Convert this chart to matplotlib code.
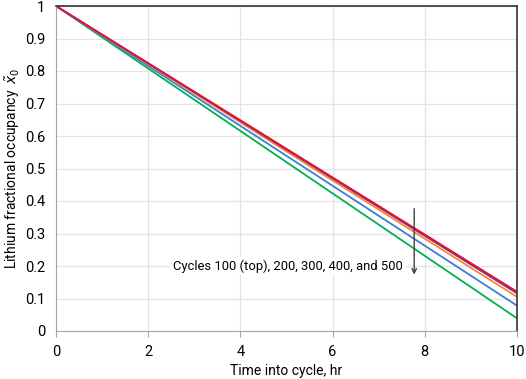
import matplotlib.pyplot as plt

# tiempo y ocupación fraccional de litio por ciclo
t = [0, 10]
cycles = [100, 200, 300, 400, 500]
x_c100 = [1.0, 0.121]
x_c200 = [1.0, 0.116]
x_c300 = [1.0, 0.105]
x_c400 = [1.0, 0.078]
x_c500 = [1.0, 0.039]

series = [x_c100, x_c200, x_c300, x_c400, x_c500]
colors = ['#E8112D', '#7030A0', '#F5892A', '#3B7DD8', '#00B050']

plt.rcParams['font.family'] = ['Roboto', 'DejaVu Sans']
plt.rcParams['mathtext.fontset'] = 'dejavusans'

fig = plt.figure(figsize=(5.26, 3.79), dpi=100)
ax = fig.add_axes([56 / 526, 48 / 379, 461 / 526, 325 / 379])

# dibujar del último ciclo al primero para que el 100 quede encima
for vals, c in reversed(list(zip(series, colors))):
    ax.plot(t, vals, color=c, lw=1.3)

ax.set_xlim(0, 10)
ax.set_ylim(0, 1)
ax.set_xticks(range(0, 11, 2))
ax.set_yticks([i / 10 for i in range(11)])
ax.set_yticklabels(['0', '0.1', '0.2', '0.3', '0.4', '0.5', '0.6', '0.7', '0.8', '0.9', '1'])
ax.grid(True, color='#e3e3e3', lw=0.9)
ax.set_axisbelow(True)

for s in ['left', 'bottom']:
    ax.spines[s].set_color('#a6a6a6')
for s in ['top', 'right']:
    ax.spines[s].set_color('#333333')
    ax.spines[s].set_linewidth(1.2)

ax.tick_params(axis='y', length=0, labelsize=10.5, pad=8)
ax.tick_params(axis='x', length=4, color='#a6a6a6', labelsize=10.5, pad=6)

ax.set_xlabel('Time into cycle, hr', fontsize=10, labelpad=4)
ax.set_ylabel(r'Lithium fractional occupancy  $\tilde{x}_0$', fontsize=10)
ax.yaxis.set_label_coords(-0.074, 0.5)

ax.text(2.54, 0.2, 'Cycles 100 (top), 200, 300, 400, and 500', fontsize=9.4,
        va='center', ha='left', zorder=5,
        bbox=dict(facecolor='white', edgecolor='none', pad=2))
ax.annotate('', xy=(7.77, 0.165), xytext=(7.77, 0.385),
            arrowprops=dict(arrowstyle='->', color='#404040', lw=1.0,
                            mutation_scale=8), zorder=6)

fig.savefig('out.png', dpi=100)
